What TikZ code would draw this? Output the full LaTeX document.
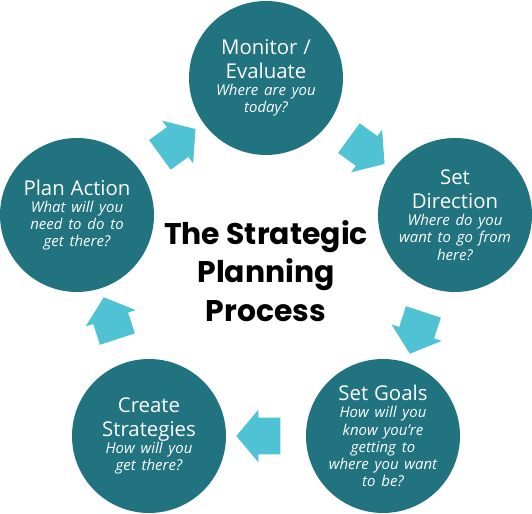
\documentclass[tikz,border=0pt]{standalone}
\usepackage{fontspec}
\setmainfont{Open Sans}
\newfontfamily\titlefont{Poppins}
\usepackage{tikz}
\usetikzlibrary{shapes.arrows, positioning}
\setlength{\parindent}{0pt}
\definecolor{stepteal}{HTML}{20737F}
\definecolor{flowcyan}{HTML}{4FC3D3}
\tikzstyle{flow}=[single arrow, fill=flowcyan, inner xsep=0pt, inner ysep=0.36cm,
                  minimum height=0.88cm, minimum width=1.04cm,
                  single arrow head extend=0.16cm, single arrow tip angle=100,
                  sloped, allow upside down]
\newcommand{\stephead}[1]{{\fontsize{11.6}{13.7}\selectfont #1\par}}
\newcommand{\stepask}[1]{{\fontsize{8.5}{9.8}\selectfont\itshape #1\par}}

\begin{document}
\begin{tikzpicture}[
  stepnode/.style={circle, fill=stepteal, minimum size=3.08cm, inner sep=-4mm,
                   text=white, text width=2.4cm, align=center}
]
\useasboundingbox (-5.32,-4.86) rectangle (5.32,5.42);

\node[font=\titlefont\bfseries\fontsize{17}{22}\selectfont, align=center] (title) at (0,0)
     {The Strategic\\Planning\\Process};

\node[stepnode] (mon)   at (0,3.86)     {\stephead{Monitor /\par Evaluate}\stepask{Where are you\par today?}};
\node[stepnode] (dir)   at (3.78,1.12)  {\stephead{Set\par Direction}\stepask{Where do you\par want to go from\par here?}};
\node[stepnode] (goals) at (2.34,-3.30) {\stephead{Set Goals}\stepask{How will you\par know you're\par getting to\par where you want\par to be?}};
\node[stepnode] (strat) at (-2.34,-3.30) {\stephead{Create\par Strategies}\stepask{How will you\par get there?}};
\node[stepnode] (plan)  at (-3.78,1.12) {\stephead{Plan Action}\stepask{What will you\par need to do to\par get there?}};

% arrows round the cycle
\path (mon)   -- node[flow] (a1) {} (dir);
\path (dir)   -- node[flow] (a2) {} (goals);
\path (goals) -- node[flow] (a3) {} (strat);
\path (strat) -- node[flow] (a4) {} (plan);
\path (plan)  -- node[flow] (a5) {} (mon);
\end{tikzpicture}
\end{document}
